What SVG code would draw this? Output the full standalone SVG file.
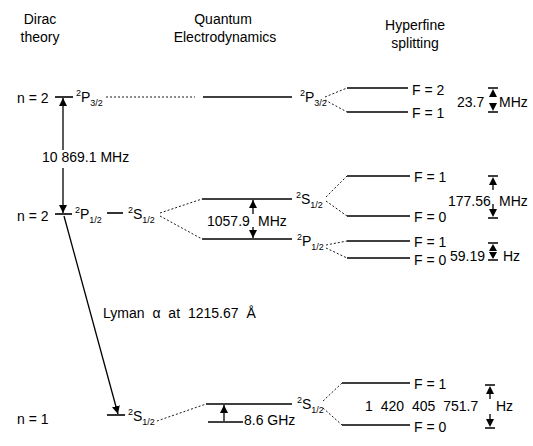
<svg xmlns="http://www.w3.org/2000/svg" width="533" height="446" viewBox="0 0 533 446">
<style>
text{font-family:"Liberation Sans","DejaVu Sans",sans-serif;font-size:14px;fill:#000}
.h{font-size:14px;text-anchor:middle}
.sm{font-size:9px}
.lv{stroke:#000;stroke-width:1.6;fill:none}
.dt{stroke:#000;stroke-width:0.9;stroke-dasharray:2 2;fill:none}
.ar{stroke:#000;stroke-width:1.3;fill:none}
.tri{fill:#000;stroke:none}
</style>
<defs>
<marker id="ah" viewBox="0 0 10 10" refX="10" refY="5" markerWidth="8" markerHeight="8" markerUnits="userSpaceOnUse" orient="auto-start-reverse">
<path d="M0,0 L10,5 L0,10 z" fill="#000"/>
</marker>
</defs>
<rect width="533" height="446" fill="#fff"/>

<g id="headers">
<text class="h" x="40" y="24">Dirac</text>
<text class="h" x="40" y="42">theory</text>
<text class="h" x="223" y="24">Quantum</text>
<text class="h" x="225" y="42">Electrodynamics</text>
<text class="h" x="415" y="30">Hyperfine</text>
<text class="h" x="415" y="48">splitting</text>
</g>

<g id="connectors">
<path class="dt" d="M106,97 H195"/>
<path class="dt" d="M325,97 L347,88 M325,100 L347,112"/>
<path class="dt" d="M160,213 L202,199 M160,216 L202,239"/>
<path class="dt" d="M326,197 L347,176 M326,201 L347,216"/>
<path class="dt" d="M326,245 L347,241 M326,248 L347,258"/>
<path class="dt" d="M157,421 L206,404"/>
<path class="dt" d="M323,401 L342,383 M323,408 L342,425"/>
<path class="ar" d="M63,150 V98" marker-end="url(#ah)"/>
<path class="ar" d="M63,168 V213" marker-end="url(#ah)"/>
<path class="ar" d="M253,214 V200" marker-end="url(#ah)"/>
<path class="ar" d="M253,227 V238" marker-end="url(#ah)"/>
<path class="ar" d="M64,216 L118,414" marker-end="url(#ah)"/>
<path class="ar" d="M224,421 V405" marker-end="url(#ah)"/>
</g>

<g id="dirac-n2-p32">
<text x="17" y="103">n = 2</text>
<path class="lv" d="M55,97 H73"/>
<text x="76" y="102"><tspan class="sm" dy="-6">2</tspan><tspan dy="6">P</tspan><tspan class="sm" dy="4">3/2</tspan></text>
</g>

<g id="dirac-label">
<text x="42" y="162">10 869.1 MHz</text>
</g>

<g id="dirac-n2-p12">
<text x="17" y="221">n = 2</text>
<path class="lv" d="M55,214 H72"/>
<text x="75" y="219"><tspan class="sm" dy="-6">2</tspan><tspan dy="6">P</tspan><tspan class="sm" dy="4">1/2</tspan></text>
<path class="lv" d="M107,213 H123"/>
<text x="128" y="219"><tspan class="sm" dy="-6">2</tspan><tspan dy="6">S</tspan><tspan class="sm" dy="4">1/2</tspan></text>
</g>

<g id="lyman-label">
<text x="103" y="318" font-size="15" word-spacing="4">Lyman α at 1215.67 Å</text>
</g>

<g id="dirac-n1">
<text x="17" y="424">n = 1</text>
<path class="lv" d="M107,415 H125"/>
<text x="128" y="421"><tspan class="sm" dy="-6">2</tspan><tspan dy="6">S</tspan><tspan class="sm" dy="4">1/2</tspan></text>
</g>

<g id="qed-p32">
<path class="lv" d="M203,97 H292"/>
<text x="300" y="102"><tspan class="sm" dy="-6">2</tspan><tspan dy="6">P</tspan><tspan class="sm" dy="4">3/2</tspan></text>
</g>

<g id="qed-s12">
<path class="lv" d="M202,199 H292"/>
<text x="296" y="204"><tspan class="sm" dy="-6">2</tspan><tspan dy="6">S</tspan><tspan class="sm" dy="4">1/2</tspan></text>
</g>

<g id="qed-p12">
<path class="lv" d="M202,239 H292"/>
<text x="297" y="246"><tspan class="sm" dy="-6">2</tspan><tspan dy="6">P</tspan><tspan class="sm" dy="4">1/2</tspan></text>
</g>

<g id="lamb-label">
<text x="207" y="226">1057.9</text>
<text x="258" y="226">MHz</text>
</g>

<g id="qed-n1">
<path class="lv" d="M206,404 H292"/>
<path class="lv" d="M208,422 H243"/>
<text x="244" y="425" font-size="13">8.6 GHz</text>
<text x="297" y="409"><tspan class="sm" dy="-6">2</tspan><tspan dy="6">S</tspan><tspan class="sm" dy="4">1/2</tspan></text>
</g>

<g id="hf-p32">
<path class="lv" d="M347,88 H408 M347,112 H408"/>
<text x="412" y="95">F = 2</text>
<text x="412" y="118">F = 1</text>
<text x="457" y="107">23.7</text>
<path class="lv" d="M488,88 H498 M488,112 H498"/>
<path class="tri" d="M493,89 L489,97 L497,97 z M493,111 L489,103 L497,103 z"/>
<text x="499" y="107">MHz</text>
</g>

<g id="hf-s12">
<path class="lv" d="M347,176 H410 M347,216 H410"/>
<text x="414" y="182">F = 1</text>
<text x="414" y="222">F = 0</text>
<text x="448" y="206">177.56</text>
<text x="499" y="206">MHz</text>
<path class="lv" d="M488,176 H498 M488,218 H498"/>
<path class="tri" d="M493,177 L489,185 L497,185 z M493,217 L489,209 L497,209 z"/>
<path class="ar" d="M493,185 V190 M493,204 V209"/>
</g>

<g id="hf-p12">
<path class="lv" d="M347,241 H410 M347,258 H410"/>
<text x="414" y="247">F = 1</text>
<text x="414" y="265">F = 0</text>
<text x="450" y="261">59.19</text>
<path class="lv" d="M488,243 H498 M488,260 H498"/>
<path class="tri" d="M493,244 L489,251 L497,251 z M493,259 L489,252 L497,252 z"/>
<text x="503" y="261">Hz</text>
</g>

<g id="hf-n1">
<path class="lv" d="M342,383 H410 M342,425 H410"/>
<text x="414" y="389">F = 1</text>
<text x="414" y="432">F = 0</text>
<text x="365" y="411" word-spacing="4">1 420 405 751.7</text>
<text x="496" y="411">Hz</text>
<path class="lv" d="M485,385 H495 M485,428 H495"/>
<path class="tri" d="M490,386 L486,394 L494,394 z M490,427 L486,419 L494,419 z"/>
<path class="ar" d="M490,394 V399 M490,414 V419"/>
</g>
</svg>
